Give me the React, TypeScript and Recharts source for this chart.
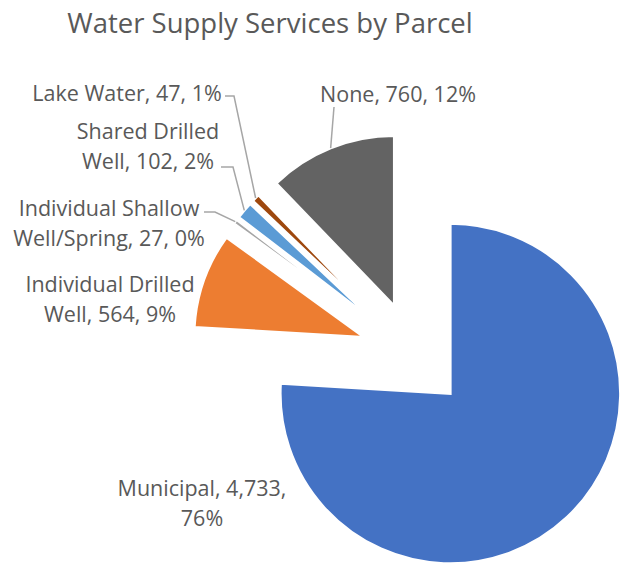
import { PieChart, Pie, Cell, Sector } from 'recharts'

const categories = [
  'Municipal',
  'Individual Drilled Well',
  'Individual Shallow Well/Spring',
  'Shared Drilled Well',
  'Lake Water',
  'None',
]
const parcels = [4733, 564, 27, 102, 47, 760]
const sliceColors = ['#4472C4', '#ED7D31', '#A5A5A5', '#5B9BD5', '#9E480E', '#636363']
// how many words of each label go on its first line
const firstLineWords = [2, 2, 2, 2, 4, 3]

// where Excel put each label (text centre, first line) and the bend of its leader
const labelSpots: { x: number; y: number; bend?: number[][] }[] = [
  { x: 202, y: 487 },
  { x: 110, y: 283 },
  { x: 109, y: 207, bend: [[204, 212], [215, 212]] },
  { x: 148, y: 130, bend: [[221, 167], [233, 167]] },
  { x: 127, y: 92, bend: [[225, 96], [234, 96]] },
  { x: 398, y: 93, bend: [[334, 107]] },
]

const RAD = Math.PI / 180
const EXPLODE = 53
const TEXT = '#595959'
const FONT = '"Open Sans", Lato, sans-serif'

const chartData = categories.map((name, i) => ({ name, value: parcels[i] }))

function explodeOffset(midAngle: number) {
  return {
    dx: Math.cos(-midAngle * RAD) * EXPLODE,
    dy: Math.sin(-midAngle * RAD) * EXPLODE,
  }
}

function ExplodedSector(props: any) {
  const { cx, cy, startAngle, endAngle } = props
  const mid = props.midAngle ?? (startAngle + endAngle) / 2
  const { dx, dy } = explodeOffset(mid)
  return (
    <Sector
      cx={cx + dx}
      cy={cy + dy}
      innerRadius={0}
      outerRadius={props.outerRadius}
      startAngle={startAngle}
      endAngle={endAngle}
      fill={props.fill}
      stroke="#fff"
      strokeWidth={2.5}
    />
  )
}

function renderLabel(props: any) {
  const { cx, cy, midAngle, outerRadius, index, percent, value, name } = props
  const spot = labelSpots[index]
  const { dx, dy } = explodeOffset(midAngle)
  const ex = cx + dx + Math.cos(-midAngle * RAD) * outerRadius
  const ey = cy + dy + Math.sin(-midAngle * RAD) * outerRadius

  const words = `${name}, ${Number(value).toLocaleString('en-US')}, ${Math.round(percent * 100)}%`.split(' ')
  const lines = [words.slice(0, firstLineWords[index]).join(' '), words.slice(firstLineWords[index]).join(' ')]
    .filter(l => l.length > 0)

  let leader = null
  if (spot.bend) {
    const pts = [...spot.bend, [ex, ey]].map(p => p.join(',')).join(' ')
    leader = <polyline points={pts} fill="none" stroke="#A6A6A6" strokeWidth={1.5} />
  }

  return (
    <g key={`lbl-${index}`}>
      {leader}
      {lines.map((line, i) => (
        <text
          key={i}
          x={spot.x}
          y={spot.y + i * 30}
          textAnchor="middle"
          dominantBaseline="central"
          fill={TEXT}
          fontSize={21.5}
          fontFamily={FONT}
        >
          {line}
        </text>
      ))}
    </g>
  )
}

export default function App() {
  return (
    <div style={{ width: 623, height: 565, background: '#fff', position: 'relative' }}>
      <style>{'body { margin: 0; }'}</style>
      <PieChart width={623} height={565} margin={{ top: 0, right: 0, bottom: 0, left: 0 }}>
        <text
          x={270}
          y={22}
          textAnchor="middle"
          dominantBaseline="central"
          fill={TEXT}
          fontSize={27.5}
          fontFamily={FONT}
        >
          Water Supply Services by Parcel
        </text>
        <Pie
          data={chartData}
          dataKey="value"
          nameKey="name"
          cx={414}
          cy={355}
          outerRadius={170}
          startAngle={90}
          endAngle={-270}
          stroke="none"
          label={renderLabel}
          labelLine={false}
          shape={ExplodedSector}
          activeShape={ExplodedSector}
          inactiveShape={ExplodedSector}
          isAnimationActive={false}
        >
          {chartData.map((d, i) => (
            <Cell key={d.name} fill={sliceColors[i]} />
          ))}
        </Pie>
      </PieChart>
    </div>
  )
}
